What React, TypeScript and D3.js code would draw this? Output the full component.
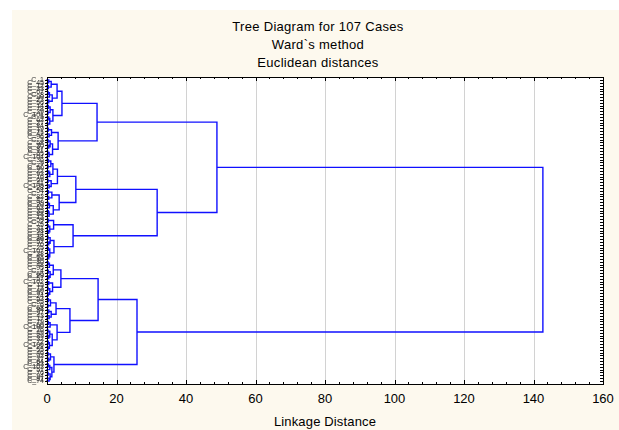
import React, { useEffect, useRef } from 'react';
import * as d3 from 'd3';

interface TreeNode {
  name?: string;
  h: number;
  children?: TreeNode[];
}

const titleLines = ['Tree Diagram for 107 Cases', 'Ward`s method', 'Euclidean distances'];
const xTicks = [0, 20, 40, 60, 80, 100, 120, 140, 160];
const xAxisTitle = 'Linkage Distance';

// clusters written as (left,right)height, leaves are case numbers, top to bottom
const clusterA1u1 = '(((1,45)0.5,(12,33)0.4)1.2,(((67,8)0.3,90)0.7,(23,56)0.5)1.5)2.9';
const clusterA1u2 = '(((14,78)0.4,(39,101)0.3)0.9,((5,62)0.5,(27,84)0.2)0.8)1.7';
const clusterA1l = '(((19,71)0.4,(42,96)0.6)1.3,(((3,58)0.3,(30,87)0.5)0.9,((11,65)0.2,104)0.6)1.6)3.2';
const clusterA2a1 = '((((36,9)0.4,(77,50)0.3)1.1,((22,93)0.5,16)0.8)1.7,((69,41)0.3,(105,28)0.6)1.2)3.0';
const clusterA2a2 = '(((54,7)0.4,(82,47)0.5)1.4,(((99,20)0.3,63)0.7,((35,88)0.4,13)0.6)1.8)3.5';
const clusterA2b1 = '((59,2)0.4,((75,31)0.3,(98,44)0.5)0.8)1.9';
const clusterA2b2 = '(((18,86)0.3,(52,70)0.5)0.9,((25,107)0.4,((38,61)0.2,10)0.5)0.8)2.0';
const clusterB1a = '((((80,48)0.3,95)0.7,((4,66)0.4,(29,57)0.5)0.9)1.8,((102,15)0.5,((73,40)0.3,(91,24)0.4)0.8)1.6)4.0';
const clusterB1b = '((((53,85)0.4,(6,68)0.3)1.0,((34,97)0.5,(43,17)0.6)1.2)2.6,(((79,60)0.4,100)0.9,(((26,49)0.3,(89,32)0.5)0.8,((72,106)0.4,(21,55)0.3)0.7)1.5)2.9)6.6';
const clusterB2 = '(((46,92)0.3,(37,64)0.5)1.0,(((83,103)0.4,51)0.8,((76,94)0.3,(81,74)0.6)0.9)1.4)2.0';

const clusterA = `(((${clusterA1u1},${clusterA1u2})4.3,${clusterA1l})14.4,((${clusterA2a1},${clusterA2a2})8.3,(${clusterA2b1},${clusterA2b2})7.5)31.7)48.9`;
const clusterB = `((${clusterB1a},${clusterB1b})14.7,${clusterB2})25.9`;
const treeString = `(${clusterA},${clusterB})142.7`;

function parseTree(src: string): TreeNode {
  const s = src.replace(/\s/g, '');
  let i = 0;
  const num = () => {
    const m = /^[0-9.]+/.exec(s.slice(i))!;
    i += m[0].length;
    return parseFloat(m[0]);
  };
  const node = (): TreeNode => {
    if (s[i] === '(') {
      i++;
      const kids = [node()];
      while (s[i] === ',') { i++; kids.push(node()); }
      i++;
      return { h: num(), children: kids };
    }
    return { name: 'C_' + num(), h: 0 };
  };
  return node();
}

const W = 619;
const H = 430;
const plot = { left: 47, right: 603, top: 77, bottom: 384 };

const App: React.FC = () => {
  const svgRef = useRef<SVGSVGElement>(null);

  useEffect(() => {
    if (!svgRef.current) return;
    const svg = d3.select(svgRef.current);
    svg.selectAll('*').remove();

    // plain filter so the small labels get greyscale smoothing
    svg.append('defs').append('filter').attr('id', 'flat')
      .append('feOffset').attr('dx', 0).attr('dy', 0);

    svg.append('rect').attr('width', W).attr('height', H).attr('fill', '#fff');
    svg.append('rect').attr('x', 12).attr('y', 10).attr('width', W - 12).attr('height', H - 10).attr('fill', '#fdf9ee');
    svg.append('rect')
      .attr('x', plot.left).attr('y', plot.top)
      .attr('width', plot.right - plot.left).attr('height', plot.bottom - plot.top)
      .attr('fill', '#fff');

    const root = d3.hierarchy<TreeNode>(parseTree(treeString));
    const leaves = root.leaves();

    const x = d3.scaleLinear().domain([0, 160]).range([plot.left, plot.right]);
    const y = d3.scalePoint<string>()
      .domain(leaves.map(d => d.data.name!))
      .range([80, 381]);

    const ypos = new Map<d3.HierarchyNode<TreeNode>, number>();
    root.eachAfter(d => {
      if (!d.children) ypos.set(d, y(d.data.name!)!);
      else ypos.set(d, d3.mean(d.children, c => ypos.get(c)!)!);
    });

    const font = 'Arial, "Liberation Sans", sans-serif';
    const px = (v: number) => Math.round(v) + 0.5;

    // grid
    svg.append('g')
      .selectAll('line')
      .data(xTicks.filter(t => t > 0 && t < 160))
      .enter().append('line')
      .attr('x1', d => px(x(d))).attr('x2', d => px(x(d)))
      .attr('y1', plot.top).attr('y2', plot.bottom)
      .attr('stroke', '#d2d2d2');

    // tree, one path
    const p = d3.path();
    root.descendants().filter(d => d.children).forEach(d => {
      const ys = d.children!.map(c => ypos.get(c)!);
      const xn = x(d.data.h);
      p.moveTo(xn, d3.min(ys)!);
      p.lineTo(xn, d3.max(ys)!);
      d.children!.forEach(c => {
        const yc = ypos.get(c)!;
        p.moveTo(x(c.data.h), yc);
        p.lineTo(xn, yc);
      });
    });
    svg.append('path')
      .attr('d', p.toString())
      .attr('fill', 'none')
      .attr('stroke', '#1010ff')
      .attr('stroke-width', 1.4)
      .attr('stroke-linecap', 'square');

    // frame and ticks
    const axis = svg.append('g').attr('stroke', '#000');
    axis.append('rect')
      .attr('x', plot.left + 0.5).attr('y', plot.top + 0.5)
      .attr('width', plot.right - plot.left).attr('height', plot.bottom - plot.top)
      .attr('fill', 'none');

    const minor = d3.range(0, 161, 4);
    axis.selectAll('.tb')
      .data(minor)
      .enter().append('line')
      .attr('x1', d => px(x(d))).attr('x2', d => px(x(d)))
      .attr('y1', plot.bottom).attr('y2', d => plot.bottom - (d % 20 === 0 ? 4 : 2));
    axis.selectAll('.tt')
      .data(minor)
      .enter().append('line')
      .attr('x1', d => px(x(d))).attr('x2', d => px(x(d)))
      .attr('y1', plot.top).attr('y2', d => plot.top + (d % 20 === 0 ? 4 : 2));
    axis.selectAll('.tr')
      .data(leaves)
      .enter().append('line')
      .attr('x1', plot.right).attr('x2', plot.right - 3)
      .attr('y1', d => px(y(d.data.name!)!)).attr('y2', d => px(y(d.data.name!)!));
    axis.selectAll('.tl')
      .data(leaves)
      .enter().append('line')
      .attr('x1', plot.left - 2).attr('x2', plot.left + 1)
      .attr('y1', d => px(y(d.data.name!)!)).attr('y2', d => px(y(d.data.name!)!));

    // leaf labels
    svg.append('g')
      .attr('filter', 'url(#flat)')
      .selectAll('text')
      .data(leaves)
      .enter().append('text')
      .attr('x', plot.left - 3)
      .attr('y', d => y(d.data.name!)!)
      .attr('dy', '0.35em')
      .attr('text-anchor', 'end')
      .style('font-family', font)
      .style('font-size', '7px')
      .style('fill', '#333')
      .text(d => d.data.name!);

    // tick labels
    svg.append('g')
      .selectAll('text')
      .data(xTicks)
      .enter().append('text')
      .attr('x', d => x(d))
      .attr('y', 403)
      .attr('text-anchor', 'middle')
      .style('font-family', font)
      .style('font-size', '13px')
      .text(d => String(d));

    svg.append('text')
      .attr('x', (plot.left + plot.right) / 2)
      .attr('y', 426)
      .attr('text-anchor', 'middle')
      .style('font-family', font)
      .style('font-size', '13px')
      .style('letter-spacing', '0.15px')
      .text(xAxisTitle);

    svg.append('g')
      .selectAll('text')
      .data(titleLines)
      .enter().append('text')
      .attr('x', 318)
      .attr('y', (_, i) => 31 + i * 18)
      .attr('text-anchor', 'middle')
      .style('font-family', font)
      .style('font-size', '13px')
      .style('letter-spacing', '0.3px')
      .text(d => d);
  }, []);

  return (
    <svg ref={svgRef} width={W} height={H} style={{ position: 'absolute', left: 0, top: 0 }} />
  );
};

export default App;
